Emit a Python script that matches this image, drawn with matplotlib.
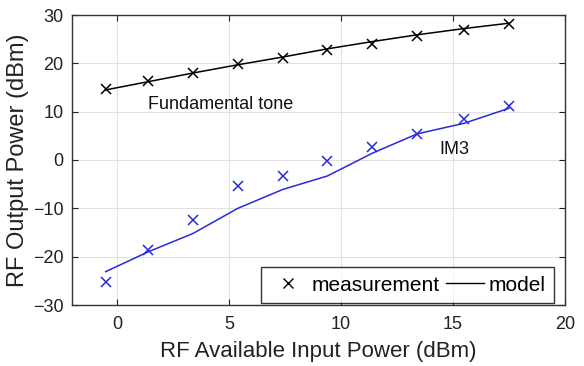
import matplotlib
matplotlib.use("Agg")
import matplotlib.pyplot as plt
from matplotlib.lines import Line2D

plt.rcParams['font.family'] = ['Liberation Sans', 'DejaVu Sans']

pin = [-0.5, 1.4, 3.4, 5.4, 7.4, 9.4, 11.4, 13.4, 15.5, 17.5]
fund_meas = [14.6, 16.4, 18.1, 19.8, 21.2, 22.8, 24.1, 25.7, 27.0, 28.1]
fund_model = [14.5, 16.2, 18.0, 19.7, 21.3, 23.0, 24.5, 25.9, 27.2, 28.3]
im3_meas = [-25.2, -18.6, -12.4, -5.3, -3.4, -0.3, 2.6, 5.4, 8.4, 11.2]
im3_model = [-23.1, -19.0, -15.2, -10.0, -6.1, -3.3, 1.4, 5.4, 7.6, 10.7]

fig = plt.figure(figsize=(5.84, 3.66), dpi=100)
ax = fig.add_axes([72/584, 1-305/366, (565-72)/584, 290/366])

ax.plot(pin, fund_model, color='black', lw=1.1)
ax.plot(pin, fund_meas, 'x', color='black', ms=7, mew=1.1, ls='none')
ax.plot(pin, im3_model, color='#2828e0', lw=1.1)
ax.plot(pin, im3_meas, 'x', color='#2828e0', ms=7, mew=1.1, ls='none')

ax.set_xlim(-2, 20)
ax.set_ylim(-30, 30)
ax.set_xticks([0, 5, 10, 15, 20])
ax.set_yticks([-30, -20, -10, 0, 10, 20, 30])
ax.grid(True, color='#e0e0e0', lw=0.8)
ax.set_axisbelow(True)
ax.tick_params(direction='in', top=True, right=True, labelsize=13, colors='#222222', length=4)
ax.tick_params(axis='x', pad=8)
ax.tick_params(axis='y', pad=6)
for s in ax.spines.values():
    s.set_color('#333333')
    s.set_linewidth(1.0)

ax.set_xlabel('RF Available Input Power (dBm)', fontsize=16, color='#222222', labelpad=6)
ax.set_ylabel('RF Output Power (dBm)', fontsize=17, color='#222222', labelpad=3)

ax.text(1.4, 11.4, 'Fundamental tone', fontsize=13, va='center', ha='left', color='#111111')
ax.text(14.4, 2.2, 'IM3', fontsize=13, va='center', ha='left', color='#111111')

handles = [Line2D([], [], color='black', marker='x', ls='none', ms=7, mew=1.0),
           Line2D([], [], color='black', lw=1.0)]
leg = ax.legend(handles, ['measurement', 'model'], loc='lower right', ncol=2,
                fontsize=15, frameon=True, fancybox=False, edgecolor='black',
                handlelength=1.8, handletextpad=0.25, columnspacing=0.3,
                borderpad=0.4, borderaxespad=0, bbox_to_anchor=(0.978, 0.007))
leg.get_frame().set_linewidth(1.0)

fig.savefig('out.png', dpi=100)
